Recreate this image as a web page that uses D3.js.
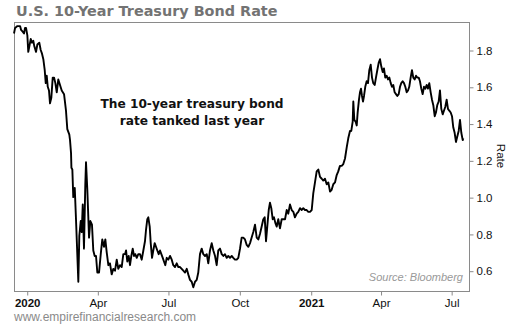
<!DOCTYPE html>
<html><head><meta charset="utf-8">
<script src="https://cdn.jsdelivr.net/npm/d3@7"></script>
<style>
html,body{margin:0;padding:0;background:#fff;}
svg{display:block;}
</style></head>
<body><svg id="chart" width="510" height="325"></svg>
<script>
const baseDate = "2020-01-01";
// days since baseDate
const dayOffsets = [-16.4,-15,-12,-10,-8.6,-7.3,-5.2,-3.5,-2.2,-0.9,0.8,2,3.4,5.2,6.8,8.5,9.8,12,13.7,16.2,18,19.7,21.4,23.2,24.5,25.8,27.1,28.7,30,31.7,33.5,35.2,36.9,38.7,40.7,42.9,45.1,48.1,50.6,52.3,54.9,55.8,57.1,57.6,58.8,60,61.9,63.5,66.5,67.8,69.6,70.9,72.2,73.8,75.5,76.4,78.1,80.3,82,84.1,85.8,87.6,89.3,91,93.2,95.4,97.4,99.6,101.3,103.1,105.2,107.3,109.5,111.6,113.8,116,118,120.2,122.4,124.5,126.7,128,129.6,131.4,133.1,134.8,136.6,138.3,139.9,141.8,143.8,146,148.2,150.3,152.4,153.7,155.4,156.7,158.5,159.8,161.5,163.1,164.9,166.6,168.3,170.1,171.8,173.5,175.3,176.9,178.6,180.4,182.5,184.7,186.9,188.9,191.1,193.3,195.4,197.6,199.7,201.8,204,206.2,208.2,210.4,212.6,214.7,216.9,219.1,221.1,223.3,225.5,227.6,229.8,232,234,236.2,238.4,240.5,242.7,244.8,246.9,249.1,251.3,253.4,255.5,257.7,259.8,262,264.2,266.2,268.4,270.6,272.7,274,274.9,277,279.1,281.3,283.5,285.6,287.8,289.9,292,294.2,296.4,298.5,300.6,302.8,304.9,306.7,308.4,310,311.9,313.5,315.2,317,318.7,320.4,322.2,324.2,326.4,328.6,330.7,332.9,335.1,337.1,339.3,341.5,343.6,345.7,347.9,350,352.2,354.4,356.4,358.6,360.8,362.9,365.1,367.3,369.3,371.5,373.7,375.8,378,380.2,382.2,384.4,386.6,388.7,390.9,393,395.1,397.3,399.5,401.5,403.7,405.9,408,410.2,412.4,414.4,416.6,418.3,420.1,420.9,422.2,423.9,425.3,426.5,428.2,429.5,430.8,432.1,433.4,434.7,436.3,438.1,439.8,441.5,443.3,445,446.6,448.5,450.1,451.8,453.6,455.3,457,458.8,460.4,462.1,463.9,465.6,467.3,469.1,470.7,472.4,474.2,475.9,477.6,479.4,481.1,482.7,484.5,486.2,487.9,489.7,491.4,493,494.8,496.5,498.2,500,501.7,503.4,505.2,506.8,508.5,510.3,512,513.7,515.5,517.1,518.8,520.6,522.3,524,525.8,527.4,529.1,530.9,532.6,534.3,536.1,537.7,539.4,541.2,542.9,544.6,546.4,548.1,549.7,551.5,553.2,554.9,556.7,558.4,560.1,561.9,562.6];
const rates = [1.89,1.92,1.93,1.93,1.93,1.91,1.90,1.89,1.92,1.92,1.88,1.79,1.82,1.86,1.84,1.85,1.82,1.79,1.83,1.84,1.80,1.78,1.75,1.69,1.62,1.66,1.60,1.58,1.51,1.54,1.65,1.65,1.62,1.57,1.64,1.61,1.58,1.56,1.47,1.37,1.34,1.31,1.24,1.16,1.15,1.00,1.05,0.88,0.54,0.79,0.87,0.81,0.96,0.72,1.07,1.19,1.04,0.78,0.87,0.85,0.71,0.68,0.68,0.59,0.59,0.69,0.77,0.73,0.77,0.70,0.63,0.64,0.58,0.61,0.60,0.66,0.61,0.63,0.62,0.69,0.69,0.71,0.65,0.68,0.63,0.68,0.72,0.68,0.69,0.67,0.69,0.69,0.66,0.71,0.76,0.82,0.88,0.89,0.84,0.75,0.67,0.71,0.75,0.73,0.71,0.69,0.71,0.69,0.67,0.65,0.63,0.67,0.66,0.68,0.66,0.63,0.62,0.64,0.62,0.62,0.61,0.60,0.59,0.61,0.58,0.55,0.54,0.51,0.54,0.55,0.59,0.69,0.72,0.69,0.68,0.69,0.64,0.71,0.75,0.71,0.68,0.63,0.71,0.72,0.69,0.68,0.69,0.67,0.68,0.67,0.68,0.67,0.66,0.66,0.67,0.70,0.72,0.78,0.78,0.77,0.74,0.73,0.75,0.78,0.81,0.85,0.78,0.77,0.80,0.84,0.88,0.89,0.76,0.84,0.93,0.97,0.94,0.88,0.89,0.86,0.84,0.88,0.83,0.88,0.88,0.88,0.93,0.91,0.96,0.93,0.92,0.89,0.91,0.92,0.94,0.93,0.94,0.93,0.93,0.92,0.92,0.93,1.02,1.08,1.14,1.15,1.11,1.10,1.09,1.10,1.07,1.08,1.03,1.04,1.07,1.08,1.12,1.14,1.17,1.17,1.18,1.21,1.27,1.32,1.36,1.36,1.41,1.52,1.42,1.41,1.39,1.46,1.53,1.57,1.59,1.55,1.52,1.55,1.60,1.63,1.62,1.69,1.72,1.65,1.62,1.61,1.65,1.69,1.73,1.75,1.71,1.68,1.70,1.65,1.66,1.64,1.65,1.62,1.60,1.61,1.57,1.56,1.55,1.56,1.60,1.62,1.63,1.62,1.60,1.57,1.58,1.60,1.65,1.69,1.65,1.64,1.66,1.65,1.65,1.63,1.59,1.56,1.60,1.59,1.61,1.59,1.62,1.57,1.53,1.50,1.44,1.46,1.50,1.52,1.58,1.48,1.45,1.47,1.49,1.53,1.48,1.47,1.46,1.44,1.38,1.35,1.30,1.33,1.36,1.42,1.35,1.31,1.32];
const xTickDates = ["2020-01-01","2020-04-01","2020-07-01","2020-10-01","2021-01-01","2021-04-01","2021-07-01"];
const yTicks = [0.6,0.8,1.0,1.2,1.4,1.6,1.8];
const xDomainDays = [-16.4, 570];
const yDomain = [0.4896, 1.9523];

const title = "U.S. 10-Year Treasury Bond Rate";
const annotation = ["The 10-year treasury bond", "rate tanked last year"];
const source = "Source: Bloomberg";
const website = "www.empirefinancialresearch.com";
const yLabel = "Rate";

const parse = d3.utcParse("%Y-%m-%d");
const base = parse(baseDate);
const dayToDate = d => new Date(base.getTime() + d * 86400000);
const data = dayOffsets.map((d, i) => ({date: dayToDate(d), value: rates[i]}));

const svg = d3.select("#chart");
const L = 14, R = 469, T = 22, B = 291;

const x = d3.scaleUtc().domain(xDomainDays.map(dayToDate)).range([L, R]);
const y = d3.scaleLinear().domain(yDomain).range([B, T]);

// frame
svg.append("rect").attr("x", L + 0.5).attr("y", T + 0.5).attr("width", R - L).attr("height", B - T)
  .attr("fill", "none").attr("stroke", "#8a8a8a").attr("stroke-width", 1);

// title
svg.append("text").attr("x", 16).attr("y", 16).text(title)
  .attr("font-family", "DejaVu Sans, Verdana, sans-serif").attr("font-weight", "bold")
  .attr("font-size", 14.4).attr("fill", "#737373");

// x axis
const xAxis = d3.axisBottom(x).tickValues(xTickDates.map(parse)).tickSize(4).tickPadding(3)
  .tickFormat(d => d.getUTCMonth() === 0 ? d3.utcFormat("%Y")(d) : d3.utcFormat("%b")(d));
const gx = svg.append("g").attr("transform", `translate(0.5,${B + 0.5})`).call(xAxis);
gx.select(".domain").remove();
gx.selectAll(".tick line").attr("stroke", "#8a8a8a");
gx.selectAll(".tick text").attr("font-family", "Liberation Sans, Arial, sans-serif")
  .attr("font-size", 11.5).attr("fill", "#111")
  .attr("font-weight", d => d.getUTCMonth() === 0 ? "bold" : "normal");

// y axis
const yAxis = d3.axisRight(y).tickValues(yTicks).tickSize(4).tickPadding(3).tickFormat(d3.format(".1f"));
const gy = svg.append("g").attr("transform", `translate(${R + 0.5},0.5)`).call(yAxis);
gy.select(".domain").remove();
gy.selectAll(".tick line").attr("stroke", "#8a8a8a");
gy.selectAll(".tick text").attr("font-family", "Liberation Sans, Arial, sans-serif")
  .attr("font-size", 11.5).attr("fill", "#111");

// y label
svg.append("text").attr("transform", `translate(497,156) rotate(90)`).attr("text-anchor", "middle")
  .text(yLabel).attr("font-family", "Liberation Sans, Arial, sans-serif").attr("font-size", 11.5).attr("fill", "#111");

// line
const line = d3.line().x(d => x(d.date)).y(d => y(d.value)).curve(d3.curveLinear);
svg.append("path").datum(data).attr("d", line).attr("fill", "none")
  .attr("stroke", "#000").attr("stroke-width", 1.9).attr("stroke-linejoin", "round");

// annotation
const ann = svg.append("text").attr("text-anchor", "middle")
  .attr("font-family", "DejaVu Sans, Verdana, sans-serif").attr("font-weight", "bold")
  .attr("font-size", 12.2).attr("fill", "#111");
annotation.forEach((t, i) => ann.append("tspan").attr("x", 192).attr("y", 108 + i * 17).text(t));

// source
svg.append("text").attr("x", 463).attr("y", 281).attr("text-anchor", "end").text(source)
  .attr("font-family", "Liberation Sans, Arial, sans-serif").attr("font-style", "italic")
  .attr("font-size", 11).attr("fill", "#999");

// website
svg.append("text").attr("x", 14).attr("y", 321).text(website)
  .attr("font-family", "Liberation Sans, Arial, sans-serif").attr("font-size", 12).attr("fill", "#8a8a8a");
</script></body></html>
